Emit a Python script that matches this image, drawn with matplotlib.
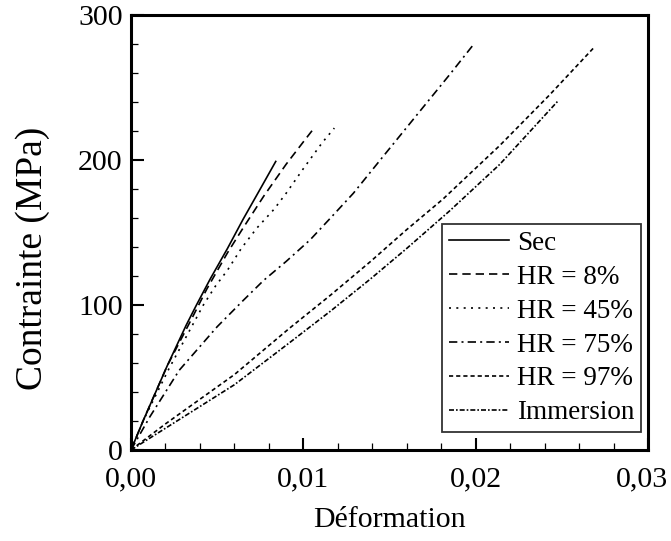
import matplotlib
matplotlib.use("Agg")
import matplotlib.pyplot as plt
from matplotlib.ticker import MultipleLocator, FuncFormatter

plt.rcParams['font.family'] = ['Liberation Serif', 'DejaVu Serif']

# strain / stress values
sec_x = [0, 0.0007, 0.0021, 0.0032, 0.0038, 0.0046, 0.0056, 0.0065, 0.0075, 0.0084]
sec_y = [0, 20, 58, 86, 100, 118, 139, 159, 180, 199]

hr8_x = [0, 0.0007, 0.0021, 0.0035, 0.0044, 0.0056, 0.0065, 0.0077, 0.0090, 0.0101, 0.01056]
hr8_y = [0, 20, 58, 90, 111, 136, 153, 175, 197, 214, 221]

hr45_x = [0, 0.0007, 0.0022, 0.0037, 0.0042, 0.0049, 0.0056, 0.0064, 0.0073, 0.0083, 0.0090, 0.0100, 0.0111, 0.0118]
hr45_y = [0, 20, 56, 89, 100, 113, 124, 139, 153, 166, 177, 194, 212, 222]

hr75_x = [0, 0.0011, 0.0028, 0.0050, 0.0065, 0.0077, 0.0090, 0.0104, 0.0115, 0.0129, 0.0146, 0.0159, 0.0185, 0.0199]
hr75_y = [0, 23, 55, 85, 103, 117, 130, 145, 159, 177, 202, 221, 259, 280]

hr97_x = [0, 0.0020, 0.0060, 0.0092, 0.0116, 0.0139, 0.0160, 0.0181, 0.0214, 0.0243, 0.0269]
hr97_y = [0, 18, 52, 84, 107, 130, 152, 173, 210, 245, 278]

imm_x = [0, 0.0020, 0.0060, 0.0092, 0.0116, 0.0139, 0.0160, 0.0185, 0.0214, 0.0248]
imm_y = [0, 15, 45, 74, 96, 118, 139, 165, 197, 241]

labels = ['Sec', 'HR = 8%', 'HR = 45%', 'HR = 75%', 'HR = 97%', 'Immersion']
x_max = 0.03


def comma_fmt(v, pos):
    # the last label is drawn separately, a bit to the left, so it is not cut
    if abs(v - x_max) < 1e-9:
        return ''
    return f"{v:.2f}".replace('.', ',')


fig = plt.figure(figsize=(6.71, 5.41), dpi=100)
ax = fig.add_axes([0.1952, 0.1682, 0.7705, 0.8041])

lw = 1.2
ax.plot(sec_x, sec_y, color='black', lw=lw, linestyle='-', label=labels[0])
ax.plot(hr8_x, hr8_y, color='black', lw=lw, linestyle=(0, (5, 3)), label=labels[1])
ax.plot(hr45_x, hr45_y, color='black', lw=lw, linestyle=(0, (1.2, 3.2)), label=labels[2])
ax.plot(hr75_x, hr75_y, color='black', lw=lw, linestyle=(0, (5, 2.5, 1.2, 2.5)), label=labels[3])
ax.plot(hr97_x, hr97_y, color='black', lw=lw, linestyle=(0, (2.5, 1.8)), label=labels[4])
ax.plot(imm_x, imm_y, color='black', lw=lw, linestyle=(0, (3, 1.2, 1, 1.2)), label=labels[5])

ax.set_xlim(0, x_max)
ax.set_ylim(0, 300)

ax.xaxis.set_major_locator(MultipleLocator(0.01))
ax.xaxis.set_minor_locator(MultipleLocator(0.002))
ax.yaxis.set_major_locator(MultipleLocator(100))
ax.yaxis.set_minor_locator(MultipleLocator(20))
ax.xaxis.set_major_formatter(FuncFormatter(comma_fmt))
ax.yaxis.set_major_formatter(FuncFormatter(lambda v, p: f"{v:.0f}"))

ax.tick_params(which='both', direction='in', top=False, right=False, labelsize=21.5)
ax.tick_params(axis='x', which='major', pad=12)
ax.tick_params(axis='y', which='major', pad=6)
ax.tick_params(which='major', length=9, width=1.5)
ax.tick_params(which='minor', length=5, width=0.9)
for s in ax.spines.values():
    s.set_linewidth(2.2)

ax.annotate(f"{x_max:.2f}".replace('.', ','), xy=(1, 0), xycoords='axes fraction',
            xytext=(-4, -12), textcoords='offset points', ha='center', va='top',
            fontsize=21.5)

ax.set_xlabel('Déformation', fontsize=21.5, labelpad=10)
ax.set_ylabel('Contrainte (MPa)', fontsize=27)
ax.yaxis.set_label_coords(-0.157, 0.44)

leg = ax.legend(loc='lower right', bbox_to_anchor=(0.9865, 0.041), fontsize=19.5,
                frameon=True, fancybox=False, edgecolor='black', handlelength=2.2,
                handletextpad=0.3, labelspacing=0.33, borderpad=0.25, borderaxespad=0)
leg.get_frame().set_linewidth(1.3)

fig.savefig('out.png', dpi=100)
